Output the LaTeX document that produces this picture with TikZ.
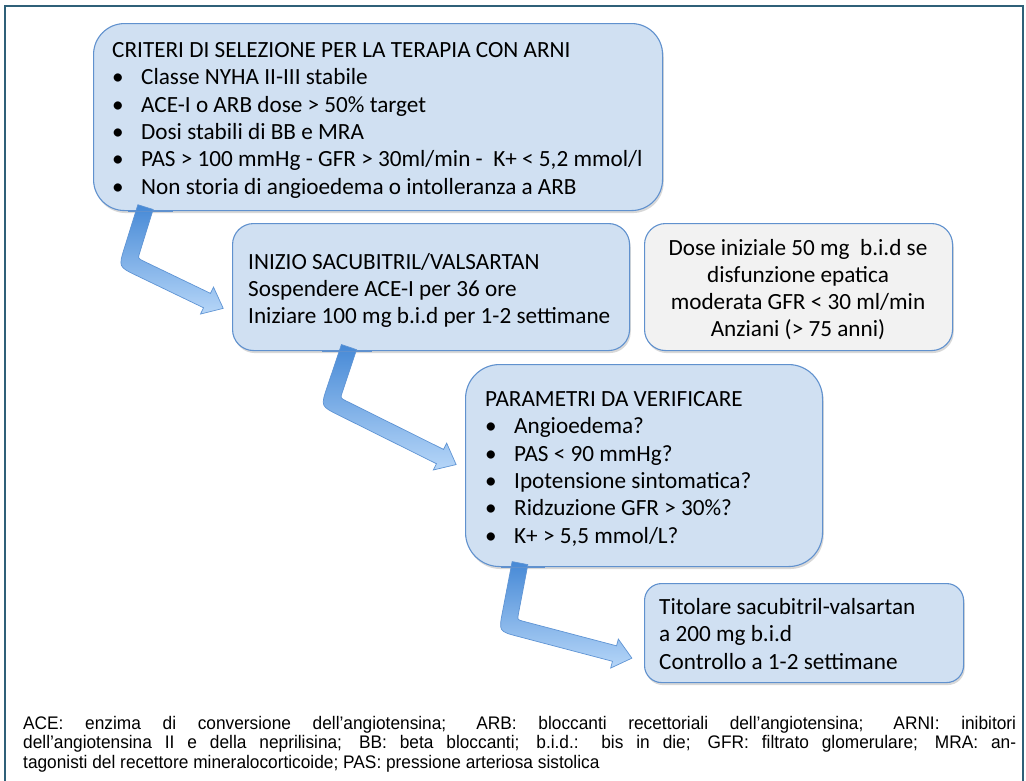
\documentclass[tikz,border=0pt]{standalone}
\usepackage{fontspec}
\setmainfont{Carlito}
\newfontfamily\capfont[FakeStretch=0.95]{Liberation Sans}
\usetikzlibrary{calc,shadows}
\definecolor{boxfill}{RGB}{208,224,242}
\definecolor{boxline}{RGB}{96,145,206}
\definecolor{grayfill}{RGB}{242,242,242}
\definecolor{framec}{RGB}{47,96,120}
\definecolor{arrtop}{RGB}{70,137,214}
\definecolor{arrbot}{RGB}{182,214,248}
\definecolor{arrline}{RGB}{95,148,212}
\newcommand\bul{\makebox[29pt][l]{•}}
\newcommand\bentarrow[1]{%
  \coordinate (#1l1) at ($(#1s)!8pt!90:(#1c)$);
  \coordinate (#1r1) at ($(#1s)!8pt!-90:(#1c)$);
  \coordinate (#1l2) at ($(#1c)!8pt!-90:(#1s)$);
  \coordinate (#1r2) at ($(#1c)!8pt!90:(#1s)$);
  \coordinate (#1l3) at ($(#1c)!8pt!90:(#1b)$);
  \coordinate (#1r3) at ($(#1c)!8pt!-90:(#1b)$);
  \coordinate (#1l4) at ($(#1b)!8pt!-90:(#1c)$);
  \coordinate (#1r4) at ($(#1b)!8pt!90:(#1c)$);
  \coordinate (#1kl) at (intersection of #1l1--#1l2 and #1l3--#1l4);
  \coordinate (#1kr) at (intersection of #1r1--#1r2 and #1r3--#1r4);
  \coordinate (#1hl) at ($(#1b)!15pt!-90:(#1c)$);
  \coordinate (#1hr) at ($(#1b)!15pt!90:(#1c)$);
  \coordinate (#1t) at ($(#1b)!-18pt!(#1c)$);
  \shadedraw[arrowstyle] (#1l1) -- ($(#1kl)!6pt!(#1l1)$) .. controls (#1kl) .. ($(#1kl)!6pt!(#1l4)$)
    -- (#1l4) -- (#1hl) -- (#1t) -- (#1hr) -- (#1r4)
    -- ($(#1kr)!20pt!(#1r4)$) .. controls (#1kr) .. ($(#1kr)!20pt!(#1r1)$) -- (#1r1) -- cycle;
}
\tikzset{
  bbox/.style={draw=boxline, line width=1.1pt, fill=boxfill, anchor=north west, inner sep=0pt,
    drop shadow={shadow xshift=1.2pt, shadow yshift=-2.5pt, opacity=0.3}},
  gbox/.style={bbox, fill=grayfill},
  txt/.style={inner sep=0pt, font=\fontsize{23.2}{27.4}\selectfont, anchor=base west},
  arrowstyle/.style={top color=arrtop, bottom color=arrbot, draw=arrline, line width=0.7pt},
}
\begin{document}
\begin{tikzpicture}[x=1pt,y=-1pt]
\useasboundingbox (0,0) rectangle (1026,780);
\fill[white] (0,0) rectangle (1026,780);
\draw[framec, line width=1.4pt] (5,6) rectangle (1023,795);

% boxes
\node[bbox, minimum width=569pt, minimum height=187pt, rounded corners=31pt] (b1) at (93,23) {};
\node[bbox, minimum width=397pt, minimum height=127pt, rounded corners=21pt] (b2) at (232,223) {};
\node[gbox, minimum width=308pt, minimum height=127pt, rounded corners=21pt] (b3) at (644,223) {};
\node[bbox, minimum width=357pt, minimum height=202pt, rounded corners=34pt] (b4) at (465,364) {};
\node[bbox, minimum width=319pt, minimum height=99pt, rounded corners=17pt] (b5) at (644,583) {};

% arrows
\coordinate (a1s) at ($(b1.south west)+(52.5,-4)$);
\coordinate (a1c) at ($(a1s)+(-17.3,55.5)$);
\coordinate (a1b) at ($(b2.west)+(-25,13.5)$);
\coordinate (a2s) at ($(b2.south west)+(117,-4)$);
\coordinate (a2c) at ($(a2s)+(-18.5,55)$);
\coordinate (a2b) at ($(b4.west)+(-25,-9)$);
\coordinate (a3s) at ($(b4.south west)+(55,-4)$);
\coordinate (a3c) at ($(a3s)+(-12,62.4)$);
\coordinate (a3b) at ($(b5.west)+(-29.5,20.5)$);
\bentarrow{a1}
\bentarrow{a2}
\bentarrow{a3}
% box edges over arrow starts
\draw[boxline, line width=1.1pt] ($(b1.south west)+(35,0)$) -- ($(b1.south west)+(80,0)$);
\draw[boxline, line width=1.1pt] ($(b2.south west)+(90,0)$) -- ($(b2.south west)+(140,0)$);
\draw[boxline, line width=1.1pt] ($(b4.south west)+(36,0)$) -- ($(b4.south west)+(80,0)$);

% texts
\node[txt] (t1) at (112,57.3) {\vtop{%
  \hbox{CRITERI DI SELEZIONE PER LA TERAPIA CON ARNI}
  \hbox{\bul Classe NYHA II-III stabile}
  \hbox{\bul ACE-I o ARB dose > 50\% target}
  \hbox{\bul Dosi stabili di BB e MRA}
  \hbox{\bul PAS > 100 mmHg - GFR > 30ml/min -\ \ K+ < 5,2 mmol/l}
  \hbox{\bul Non storia di angioedema o intolleranza a ARB}}};
\node[txt, font=\fontsize{23.2}{27}\selectfont] (t2) at (248,269.3) {\vtop{%
  \hbox{INIZIO SACUBITRIL/VALSARTAN}
  \hbox{Sospendere ACE-I per 36 ore}
  \hbox{Iniziare 100 mg b.i.d per 1-2 settimane}}};
\node[txt, font=\fontsize{23.2}{27}\selectfont, anchor=base] (t3) at (798,255.3) {\vtop{%
  \hbox to 0pt{\hss Dose iniziale 50 mg\ \ b.i.d se\hss}
  \hbox to 0pt{\hss disfunzione epatica\hss}
  \hbox to 0pt{\hss moderata GFR < 30 ml/min\hss}
  \hbox to 0pt{\hss Anziani (> 75 anni)\hss}}};
\node[txt] (t4) at (485,406.3) {\vtop{%
  \hbox{PARAMETRI DA VERIFICARE}
  \hbox{\bul Angioedema?}
  \hbox{\bul PAS < 90 mmHg?}
  \hbox{\bul Ipotensione sintomatica?}
  \hbox{\bul Ridzuzione GFR > 30\%?}
  \hbox{\bul K+ > 5,5 mmol/L?}}};
\node[txt, font=\fontsize{23.2}{27.5}\selectfont] (t5) at (659,614.3) {\vtop{%
  \hbox{Titolare sacubitril-valsartan}
  \hbox{a 200 mg b.i.d}
  \hbox{Controllo a 1-2 settimane}}};

% caption
\node[inner sep=0pt, anchor=base west, font=\capfont\fontsize{18.2}{19.3}\selectfont] (cap) at (23,729.5) {\vtop{%
  \hbox to 993pt{ACE: enzima di conversione dell’angiotensina; ARB: bloccanti recettoriali dell’angiotensina; ARNI: inibitori}
  \hbox to 993pt{dell’angiotensina II e della neprilisina; BB: beta bloccanti; b.i.d.: bis in die; GFR: filtrato glomerulare; MRA: an-}
  \hbox{tagonisti del recettore mineralocorticoide; PAS: pressione arteriosa sistolica}}};
\end{tikzpicture}
\end{document}
